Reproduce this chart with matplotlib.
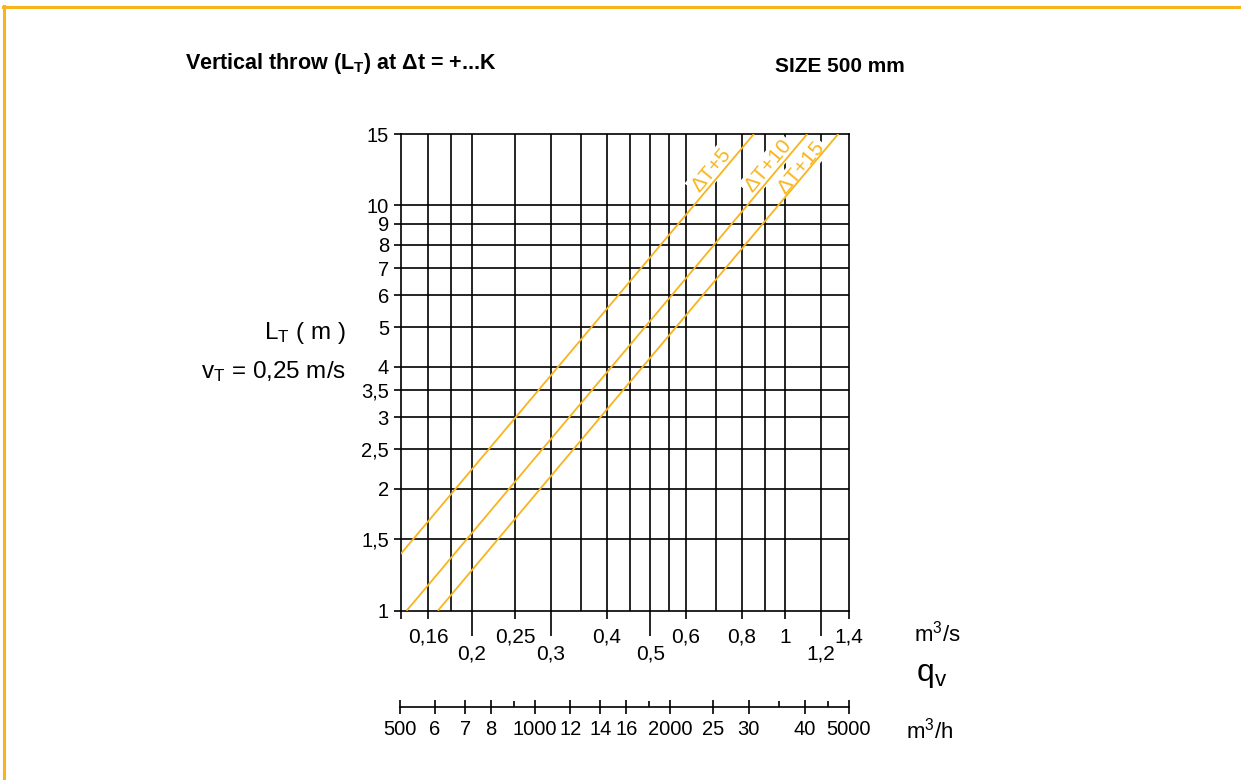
import matplotlib
matplotlib.use("Agg")
import matplotlib.pyplot as plt
from matplotlib.lines import Line2D
from matplotlib.ticker import FixedLocator, FixedFormatter, NullLocator

plt.rcParams['font.family'] = ['Liberation Sans', 'DejaVu Sans']
plt.rcParams['mathtext.default'] = 'regular'

# ---------------- data ----------------
q_min = 500 / 3600.0
q_max = 5000 / 3600.0

# vertical / horizontal grid lines (m3/s and m)
x_grid = [0.16, 0.18, 0.2, 0.25, 0.3, 0.35, 0.4, 0.45, 0.5, 0.55, 0.6, 0.7, 0.8, 0.9, 1.0, 1.2]
y_grid = [1.5, 2, 2.5, 3, 3.5, 4, 5, 6, 7, 8, 9, 10]

# x tick labels, upper row (short ticks) and lower row (long ticks)
x_upper_ticks = [q_min, 0.16, 0.25, 0.4, 0.6, 0.8, 1.0, q_max]
x_upper_labels = ['', '0,16', '0,25', '0,4', '0,6', '0,8', '1', '1,4']
x_lower_ticks = [0.2, 0.3, 0.5, 1.2]
x_lower_labels = ['0,2', '0,3', '0,5', '1,2']

y_ticks = [1, 1.5, 2, 2.5, 3, 3.5, 4, 5, 6, 7, 8, 9, 10, 15]
y_labels = ['1', '1,5', '2', '2,5', '3', '3,5', '4', '5', '6', '7', '8', '9', '10', '15']

# second scale in m3/h
h_major = [500, 600, 700, 800, 1000, 1200, 1400, 1600, 2000, 2500, 3000, 4000, 5000]
h_major_labels = ['500', '6', '7', '8', '1000', '12', '14', '16', '2000', '25', '30', '40', '5000']
h_minor = [900, 1800, 3500, 4500]

# throw lines
q_dt5 = [q_min, 0.851]
L_dt5 = [1.38, 15]
q_dt10 = [0.1432, 1.119]
L_dt10 = [1.0, 15]
q_dt15 = [0.1681, 1.312]
L_dt15 = [1.0, 15]
line_labels = ['ΔT+5', 'ΔT+10', 'ΔT+15']
label_q = [0.683, 0.915, 1.084]
label_L = [12.23, 12.51, 12.37]

# ---------------- figure ----------------
W, H = 1241, 780
fig = plt.figure(figsize=(W / 100, H / 100), dpi=100)
ORANGE = '#F8B41C'
BLACK = '#000000'
XFS = 15
YFS = 14.5


def fx(px):
    return px / W


def fy(py):
    return 1 - py / H


ax = fig.add_axes([fx(400.7), fy(610.7), fx(849.3) - fx(400.7), fy(134) - fy(610.7)])
ax.set_xscale('log')
ax.set_yscale('log')
ax.set_xlim(q_min, q_max)
ax.set_ylim(1, 15)

for v in x_grid:
    ax.axvline(v, color=BLACK, lw=1.2, zorder=1)
for v in y_grid:
    ax.axhline(v, color=BLACK, lw=1.2, zorder=1)
for s in ax.spines.values():
    s.set_linewidth(1.2)
    s.set_color(BLACK)
    s.set_zorder(4)

ax.xaxis.set_major_locator(FixedLocator(x_upper_ticks))
ax.xaxis.set_major_formatter(FixedFormatter(x_upper_labels))
ax.xaxis.set_minor_locator(FixedLocator(x_lower_ticks))
ax.xaxis.set_minor_formatter(FixedFormatter(x_lower_labels))
ax.tick_params(axis='x', which='major', length=5.8, width=1.2, pad=6.5, labelsize=XFS, color=BLACK)
ax.tick_params(axis='x', which='minor', length=18, width=1.2, pad=6.5, labelsize=XFS, color=BLACK)

ax.yaxis.set_major_locator(FixedLocator(y_ticks))
ax.yaxis.set_major_formatter(FixedFormatter(y_labels))
ax.yaxis.set_minor_locator(NullLocator())
ax.tick_params(axis='y', which='major', length=5, width=1.2, pad=3.5, labelsize=YFS, color=BLACK)

for q, L in [(q_dt5, L_dt5), (q_dt10, L_dt10), (q_dt15, L_dt15)]:
    ax.plot(q, L, color=ORANGE, lw=1.3, zorder=5, solid_capstyle='butt')

for txt, q, L in zip(line_labels, label_q, label_L):
    ax.text(q, L, txt, rotation=50, rotation_mode='anchor', ha='center', va='center',
            color=ORANGE, fontsize=15, zorder=3,
            bbox=dict(boxstyle='square,pad=0.1', fc='white', ec='none'))

# second axis (m3/h)
ax2 = fig.add_axes([fx(399.5), fy(707.3), fx(848.5) - fx(399.5), 0.04])
ax2.set_xscale('log')
ax2.set_xlim(500, 5000)
ax2.patch.set_visible(False)
for k in ['top', 'left', 'right']:
    ax2.spines[k].set_visible(False)
ax2.spines['bottom'].set_linewidth(1.2)
ax2.set_yticks([])
ax2.xaxis.set_major_locator(FixedLocator(h_major))
ax2.xaxis.set_major_formatter(FixedFormatter(h_major_labels))
ax2.xaxis.set_minor_locator(FixedLocator(h_minor))
ax2.xaxis.set_minor_formatter(FixedFormatter([''] * len(h_minor)))
ax2.tick_params(axis='x', which='major', direction='inout', length=9.4, width=1.2, pad=4.5, labelsize=14.5)
ax2.tick_params(axis='x', which='minor', direction='in', length=4.5, width=1.2)

# texts
fig.text(fx(185), fy(64), r'Vertical throw (L$_\mathregular{T}$) at Δt = +...K', ha='left', va='center',
         fontsize=15.5, fontweight='bold')
fig.text(fx(775), fy(67), 'SIZE 500 mm', ha='left', va='center', fontsize=15, fontweight='bold')
fig.text(fx(346), fy(333), r'L$_\mathregular{T}$ ( m )', ha='right', va='center', fontsize=17.5)
fig.text(fx(346), fy(372), r'v$_\mathregular{T}$ = 0,25 m/s', ha='right', va='center', fontsize=17.5)
fig.text(fx(937), fy(634), r'm$^\mathregular{3}$/s', ha='center', va='center', fontsize=16)
fig.text(fx(932), fy(675), r'q$_\mathregular{v}$', ha='center', va='center', fontsize=23)
fig.text(fx(930), fy(731), r'm$^\mathregular{3}$/h', ha='center', va='center', fontsize=16)

# frame border
fig.add_artist(Line2D([fx(3), 1], [fy(7), fy(7)], transform=fig.transFigure, color=ORANGE, lw=2.2))
fig.add_artist(Line2D([fx(4), fx(4)], [0, fy(6)], transform=fig.transFigure, color=ORANGE, lw=2.2))

fig.savefig('out.png', dpi=100)
